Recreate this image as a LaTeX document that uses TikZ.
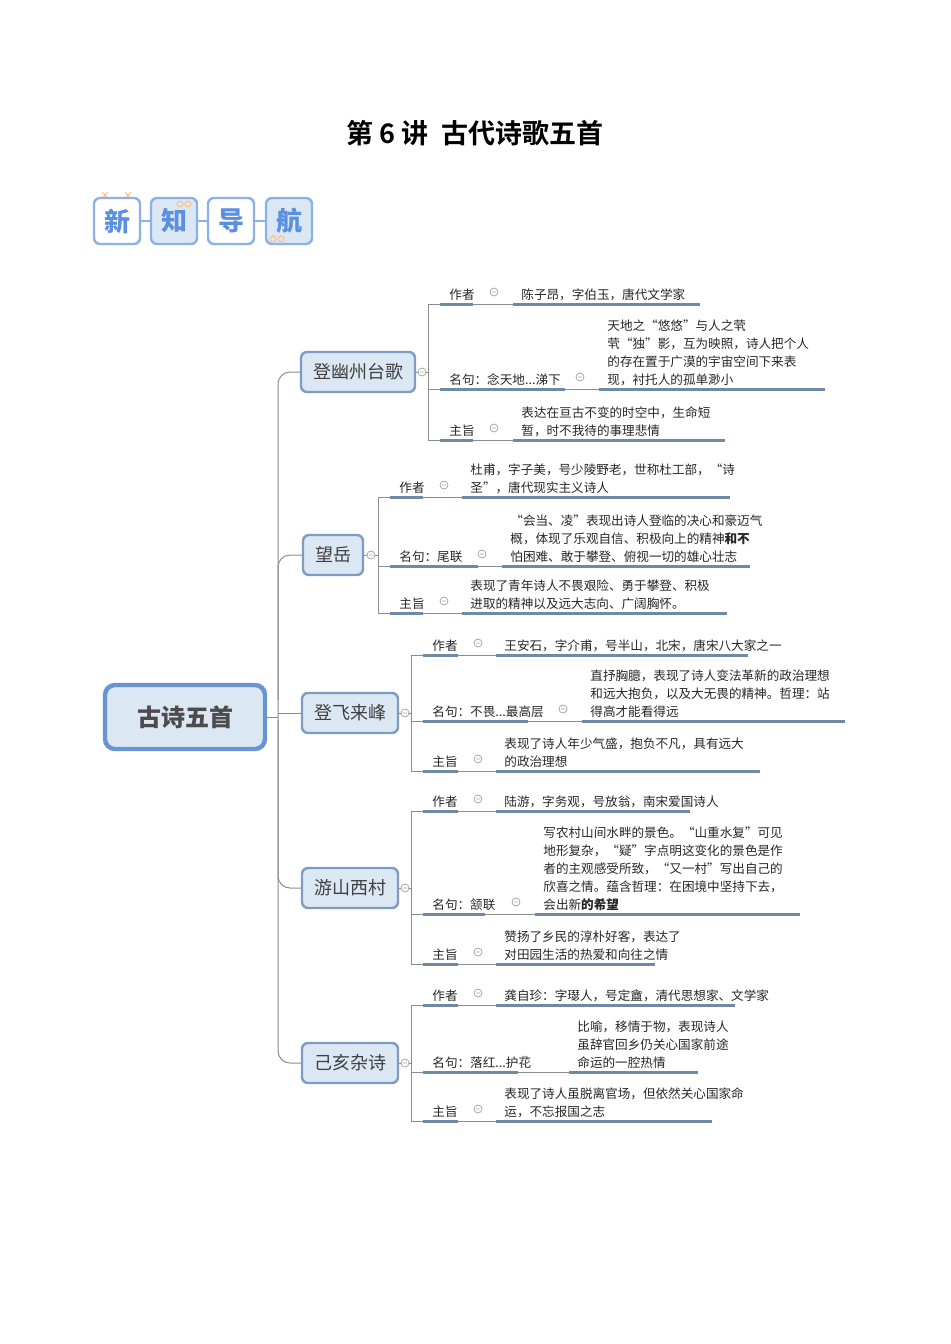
\documentclass[tikz,border=0pt]{standalone}
\usepackage{fontspec}
\setmainfont{Noto Sans CJK SC}
\newfontfamily\cjkbold[BoldFont=* Bold]{Noto Sans CJK SC}
\definecolor{lineblue}{HTML}{6F8AA6}
\definecolor{boxfill}{HTML}{DCE7F4}
\definecolor{boxedge}{HTML}{7E9CC2}
\definecolor{navblue}{HTML}{5B8FE0}
\tikzset{
  poem/.style={draw=boxedge, fill=boxfill, line width=1.2pt, rounded corners=3pt,
    minimum height=20pt, inner xsep=6pt, font=\fontsize{9}{10}\selectfont, text=black!75},
  item/.style={anchor=south west, align=left, inner sep=0pt,
    font=\fontsize{6.3}{9}\selectfont, text=black!85},
  uline/.style={lineblue, line width=1.5pt},
  twig/.style={black!45, line width=0.5pt},
  navbox/.style={draw=navblue!70, line width=1.2pt, rounded corners=3pt,
    minimum size=23pt, font=\fontsize{13}{13}\selectfont\bfseries, text=navblue}
}
% row: vx, uy, label, label end, minus x, content x, content end, content
\newcommand\branchrow[8]{%
  \draw[twig] (#1,#2) -- (#1+12,#2);
  \node[item] (lab) at (#1+21,#2-3) {#3};
  \draw[uline] (#1+12,#2) -- (#4,#2);
  \draw[twig] (#4,#2) -- (#6-8,#2);
  \draw[black!35, line width=0.4pt] (#5,#2-12) circle (4) (#5-2,#2-12) -- (#5+2,#2-12);
  \node[item] (txt) at (#6,#2-3) {#8};
  \draw[uline] (#6-8,#2) -- (#7,#2);
}
\newcommand\minuscirc[2]{%
  \draw[black!35, line width=0.4pt, fill=white] (#1,#2) circle (4) (#1-2,#2) -- (#1+2,#2);
}
\begin{document}
\begin{tikzpicture}[x=0.5pt, y=-0.5pt]
\useasboundingbox (0,0) rectangle (950,1344);

% title
\node (title) at (475,133) {\fontsize{13.5}{14}\selectfont\cjkbold\bfseries 第 6 讲\ \ 古代诗歌五首};

% nav boxes
\node[navbox, fill=white] (n1) at (117,221) {新};
\node[navbox, fill=boxfill] (n2) at (174,221) {知};
\node[navbox, fill=white] (n3) at (231,221) {导};
\node[navbox, fill=boxfill] (n4) at (289,221) {航};
\draw[navblue!70, line width=1pt] (n1) -- (n2) (n2) -- (n3) (n3) -- (n4);
\foreach \px in {105,128} \node[orange!80, font=\fontsize{5}{5}\selectfont] at (\px,196) {×};
\draw[orange!50, line width=0.5pt] (180,204) circle (3) (188,204) circle (3)
  (273,239) circle (3) (281,239) circle (3);

% root and trunk
\node[draw=navblue!60!boxedge, fill=boxfill, line width=2.2pt, rounded corners=5pt,
  minimum width=80pt, minimum height=32pt, font=\fontsize{12}{12}\selectfont\bfseries,
  text=black!70] (root) at (185,717) {古诗五首};
\node[poem] (p1) at (358,372) {登幽州台歌};
\node[poem] (p2) at (333,555) {望岳};
\node[poem] (p3) at (350,713) {登飞来峰};
\node[poem] (p4) at (350,888) {游山西村};
\node[poem] (p5) at (350,1063) {己亥杂诗};
\draw[twig, rounded corners=6pt] (p1.west) -| (278,717) |- (p5.west);
\draw[twig, rounded corners=6pt] (278,700) |- (p2.west);
\draw[twig, rounded corners=6pt] (278,720) |- (p4.west);
\draw[twig] (root.east) -- (278,717) (278,713) -- (p3.west);

% 登幽州台歌
\draw[twig] (p1.east) -- (428,372) (428,304) -- (428,440);
\minuscirc{422}{372}
\branchrow{428}{304}{作者}{473}{494}{521}{700}{陈子昂，字伯玉，唐代文学家}
\branchrow{428}{389}{名句：念天地...涕下}{565}{580}{607}{825}{天地之“悠悠”与人之茕\\茕“独”影，互为映照，诗人把个人\\的存在置于广漠的宇宙空间下来表\\现，衬托人的孤单渺小}
\branchrow{428}{440}{主旨}{473}{494}{521}{725}{表达在亘古不变的时空中，生命短\\暂，时不我待的事理悲情}

% 望岳
\draw[twig] (p2.east) -- (378,555) (378,497) -- (378,613);
\minuscirc{371}{555}
\branchrow{378}{497}{作者}{423}{444}{470}{730}{杜甫，字子美，号少陵野老，世称杜工部，“诗\\圣”，唐代现实主义诗人}
\branchrow{378}{566}{名句：尾联}{478}{482}{510}{750}{“会当、凌”表现出诗人登临的决心和豪迈气\\概，体现了乐观自信、积极向上的精神\textbf{和不}\\怕困难、敢于攀登、俯视一切的雄心壮志}
\branchrow{378}{613}{主旨}{423}{444}{470}{727}{表现了青年诗人不畏艰险、勇于攀登、积极\\进取的精神以及远大志向、广阔胸怀。}

% 登飞来峰
\draw[twig] (p3.east) -- (411,713) (411,655) -- (411,771);
\minuscirc{405}{713}
\branchrow{411}{655}{作者}{458}{478}{504}{748}{王安石，字介甫，号半山，北宋，唐宋八大家之一}
\branchrow{411}{721}{名句：不畏...最高层}{528}{563}{590}{845}{直抒胸臆，表现了诗人变法革新的政治理想\\和远大抱负，以及大无畏的精神。哲理：站\\得高才能看得远}
\branchrow{411}{771}{主旨}{458}{478}{504}{760}{表现了诗人年少气盛，抱负不凡，具有远大\\的政治理想}

% 游山西村
\draw[twig] (p4.east) -- (411,888) (411,811) -- (411,964);
\minuscirc{405}{888}
\branchrow{411}{811}{作者}{458}{478}{504}{690}{陆游，字务观，号放翁，南宋爱国诗人}
\branchrow{411}{914}{名句：颔联}{485}{516}{543}{800}{写农村山间水畔的景色。“山重水复”可见\\地形复杂，“疑”字点明这变化的景色是作\\者的主观感受所致，“又一村”写出自己的\\欣喜之情。蕴含哲理：在困境中坚持下去，\\会出新\textbf{的希望}}
\branchrow{411}{964}{主旨}{458}{478}{504}{655}{赞扬了乡民的淳朴好客，表达了\\对田园生活的热爱和向往之情}

% 己亥杂诗
\draw[twig] (p5.east) -- (411,1063) (411,1005) -- (411,1121);
\minuscirc{405}{1063}
\branchrow{411}{1005}{作者}{458}{478}{504}{735}{龚自珍：字璱人，号定盦，清代思想家、文学家}
\branchrow{411}{1072}{名句：落红...护花}{518}{525}{577}{698}{比喻，移情于物，表现诗人\\虽辞官回乡仍关心国家前途\\命运的一腔热情}
\branchrow{411}{1121}{主旨}{458}{478}{504}{712}{表现了诗人虽脱离官场，但依然关心国家命\\运，不忘报国之志}
\end{tikzpicture}
\end{document}
